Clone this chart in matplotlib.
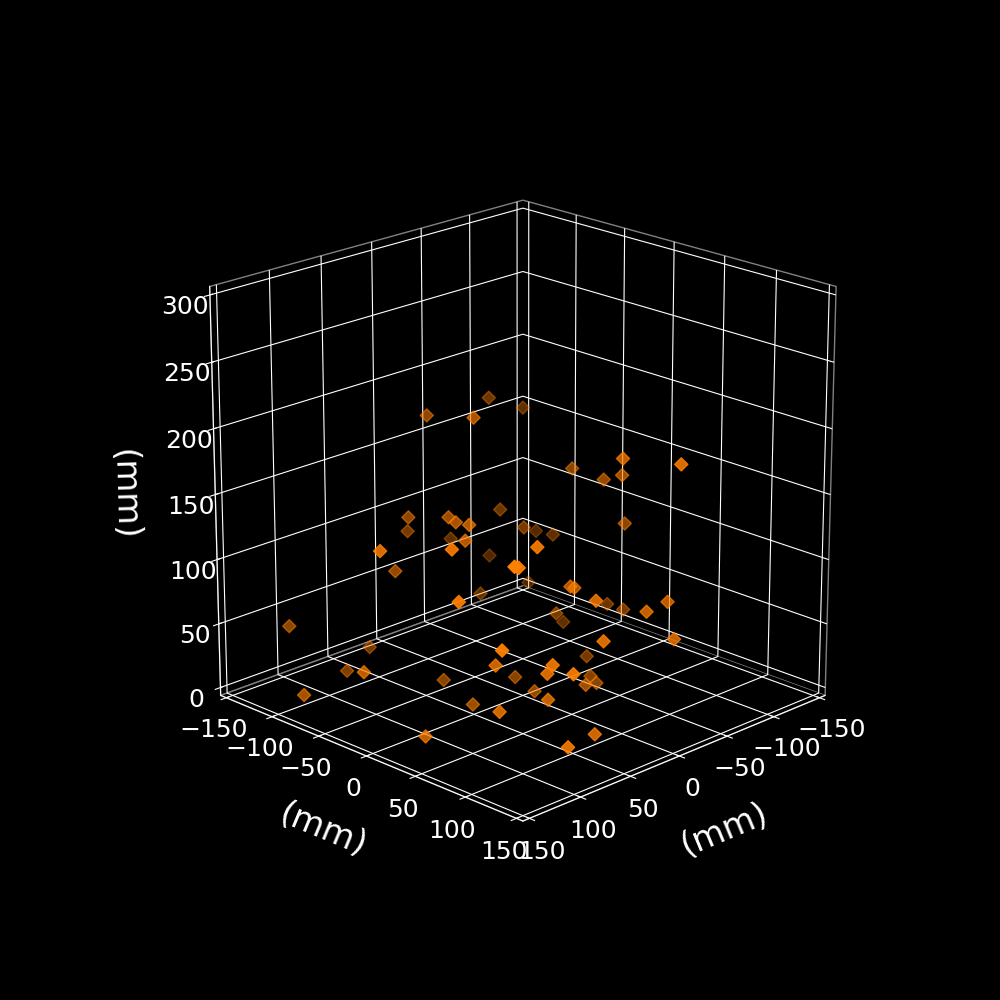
import numpy as np
import matplotlib
matplotlib.use("Agg")
import matplotlib.pyplot as plt

# 点の座標 (mm)
x = [8,-75,18,35,2,31,44,54,-64,-54,56,130,149,58,-92,134,115,-53,144,113,-110,-67,-66,-23,-58,-10,-77,-59,-117,-109,89,-113,3,1,43,-103,-94,0,-28,-59,-97,39,74,141,148,36,140,92,-5,53,107,127,56,-5,-71,98,84,96,-42,-39,-5,4,66,60,101]
y = [-91,-111,-32,-83,-119,-45,-24,0,-88,-131,-2,61,9,-73,-128,126,111,-98,82,-128,-110,-16,17,77,43,145,28,-58,-103,-77,103,-107,51,53,115,-14,11,123,117,-24,-54,-122,-109,-18,-74,-46,120,65,-13,2,84,30,135,145,-4,127,108,145,28,37,59,16,91,131,145]
z = [190,179,205,120,91,129,134,141,99,67,129,159,149,87,44,165,155,32,130,44,163,149,149,191,161,207,115,94,64,70,161,22,94,93,112,33,38,94,92,35,9,8,3,48,16,3,104,63,3,3,38,9,91,78,3,83,67,81,5,3,18,3,37,21,28]

ticks_xy = np.arange(-150, 151, 50)
ticks_z = np.arange(0, 301, 50)

plt.style.use("dark_background")
plt.rcParams["axes3d.automargin"] = True

fig = plt.figure(figsize=(10, 10), dpi=100)
ax = fig.add_subplot(projection="3d")
ax.set_box_aspect((1, 1, 1), zoom=0.95)
ax.view_init(elev=20, azim=45)

ax.scatter(x, y, z, marker="D", s=45, color="#ff7f00")

ax.set_xlim(-150, 150)
ax.set_ylim(-150, 150)
ax.set_zlim(0, 300)
ax.set_xticks(ticks_xy)
ax.set_yticks(ticks_xy)
ax.set_zticks(ticks_z)
ax.tick_params(labelsize=18)

ax.set_xlabel("(mm)", fontsize=24, labelpad=19)
ax.set_ylabel("(mm)", fontsize=24, labelpad=19)
ax.set_zlabel("(mm)", fontsize=24, labelpad=22)
for axis in (ax.xaxis, ax.yaxis, ax.zaxis):
    axis.set_rotate_label(True)
    axis.set_pane_color((0, 0, 0, 1))
    axis.pane.set_edgecolor("#808080")

fig.savefig("out.png", facecolor="black")
